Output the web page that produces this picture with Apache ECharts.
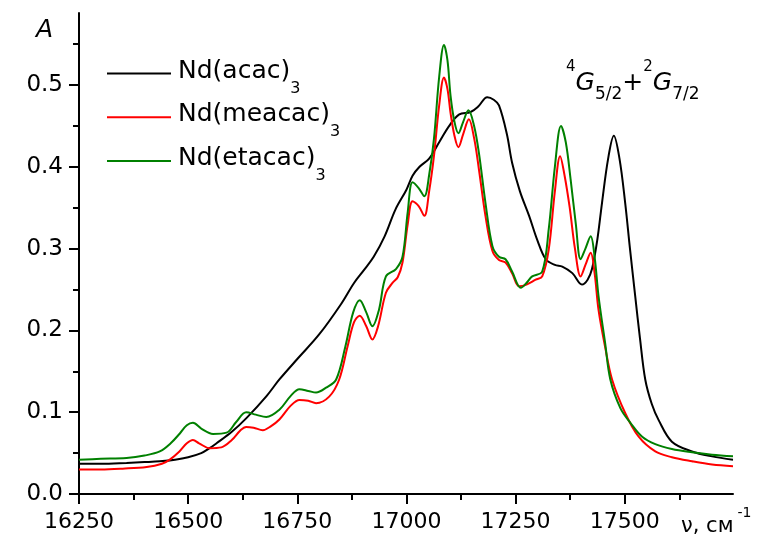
<!DOCTYPE html>
<html>
<head>
<meta charset="utf-8">
<script src="https://cdn.jsdelivr.net/npm/echarts@6/dist/echarts.min.js"></script>
<style>
  html, body { margin: 0; padding: 0; background: #ffffff; }
  #chart { width: 757px; height: 539px; }
</style>
</head>
<body>
<div id="chart"></div>
<script>
// Absorption spectra in the 4G5/2 + 2G7/2 region (wavenumber, cm^-1 -> absorbance)
const acacX = [16250, 16300, 16359, 16400, 16435, 16470, 16500, 16530, 16549, 16565, 16600, 16634, 16680, 16709,
  16750, 16800, 16850, 16880, 16903, 16925, 16950, 16975, 17000, 17014, 17030, 17052, 17075, 17098, 17121,
  17147, 17165, 17185, 17200, 17212, 17230, 17242, 17260, 17281, 17300, 17319, 17340, 17357, 17380, 17402,
  17415, 17425, 17437, 17448, 17462, 17475, 17488, 17501, 17512, 17524, 17535, 17547, 17562, 17578, 17608,
  17654, 17700, 17748];
const acacY = [0.037, 0.037, 0.038, 0.039, 0.040, 0.042, 0.045, 0.050, 0.056, 0.062, 0.076, 0.093, 0.120, 0.140,
  0.165, 0.195, 0.232, 0.258, 0.274, 0.290, 0.315, 0.348, 0.372, 0.389, 0.400, 0.410, 0.430, 0.450, 0.464,
  0.467, 0.474, 0.485, 0.482, 0.475, 0.440, 0.405, 0.370, 0.340, 0.310, 0.287, 0.280, 0.278, 0.270, 0.256,
  0.262, 0.275, 0.310, 0.356, 0.410, 0.438, 0.410, 0.356, 0.300, 0.242, 0.190, 0.140, 0.110, 0.090, 0.064,
  0.052, 0.046, 0.042];

const meacacX = [16250, 16300, 16350, 16405, 16440, 16458, 16480, 16497, 16511, 16525, 16549, 16576, 16600, 16620,
  16633, 16650, 16671, 16690, 16709, 16735, 16755, 16775, 16793, 16823, 16846, 16865, 16880, 16893, 16908,
  16922, 16935, 16953, 16968, 16980, 16991, 17003, 17014, 17028, 17041, 17052, 17063, 17075, 17086, 17094,
  17101, 17110, 17119, 17130, 17143, 17155, 17166, 17181, 17197, 17212, 17227, 17242, 17258, 17275, 17296,
  17311, 17326, 17340, 17352, 17362, 17374, 17386, 17399, 17410, 17422, 17431, 17440, 17455, 17471, 17501,
  17532, 17570, 17608, 17654, 17700, 17748];
const meacacY = [0.030, 0.030, 0.031, 0.033, 0.037, 0.042, 0.052, 0.062, 0.066, 0.062, 0.056, 0.057, 0.066, 0.078,
  0.082, 0.081, 0.078, 0.083, 0.091, 0.108, 0.115, 0.114, 0.111, 0.119, 0.140, 0.180, 0.210, 0.218, 0.205,
  0.189, 0.205, 0.246, 0.258, 0.265, 0.283, 0.330, 0.358, 0.352, 0.340, 0.370, 0.413, 0.475, 0.509, 0.495,
  0.466, 0.438, 0.424, 0.440, 0.458, 0.435, 0.397, 0.340, 0.297, 0.286, 0.283, 0.270, 0.254, 0.256, 0.262,
  0.266, 0.299, 0.370, 0.413, 0.390, 0.350, 0.300, 0.266, 0.280, 0.295, 0.270, 0.225, 0.180, 0.140, 0.099,
  0.070, 0.052, 0.045, 0.040, 0.036, 0.034];

const etacacX = [16250, 16300, 16359, 16400, 16435, 16460, 16481, 16497, 16511, 16530, 16557, 16588, 16610, 16633,
  16655, 16679, 16709, 16735, 16755, 16775, 16793, 16816, 16839, 16860, 16878, 16893, 16908, 16922, 16937,
  16953, 16976, 16991, 17003, 17014, 17028, 17041, 17052, 17063, 17075, 17086, 17094, 17101, 17110, 17119,
  17130, 17142, 17155, 17166, 17181, 17197, 17212, 17227, 17242, 17262, 17275, 17288, 17311, 17326, 17340,
  17354, 17365, 17376, 17388, 17399, 17410, 17422, 17431, 17440, 17455, 17467, 17490, 17513, 17540, 17570,
  17608, 17654, 17700, 17748];
const etacacY = [0.042, 0.043, 0.044, 0.047, 0.052, 0.062, 0.074, 0.084, 0.087, 0.080, 0.0735, 0.075, 0.088, 0.100,
  0.097, 0.094, 0.103, 0.120, 0.128, 0.126, 0.124, 0.130, 0.140, 0.180, 0.222, 0.237, 0.222, 0.205, 0.225,
  0.266, 0.275, 0.290, 0.345, 0.381, 0.374, 0.364, 0.390, 0.434, 0.510, 0.549, 0.530, 0.487, 0.455, 0.441,
  0.455, 0.469, 0.450, 0.417, 0.356, 0.303, 0.290, 0.287, 0.272, 0.252, 0.258, 0.266, 0.272, 0.324, 0.400,
  0.450, 0.430, 0.385, 0.330, 0.287, 0.300, 0.315, 0.290, 0.242, 0.185, 0.140, 0.105, 0.087, 0.070, 0.061,
  0.055, 0.051, 0.048, 0.046];

const seriesNames = ['Nd(acac)', 'Nd(meacac)', 'Nd(etacac)'];
const seriesSub = ['3', '3', '3'];
const seriesColors = ['#000000', '#ff0000', '#008000'];

const xMajorTicks = [16250, 16500, 16750, 17000, 17250, 17500];
const xMinorTicks = [16375, 16625, 16875, 17125, 17375, 17625];
const yMajorTicks = [0, 0.1, 0.2, 0.3, 0.4, 0.5];
const yMinorTicks = [0.05, 0.15, 0.25, 0.35, 0.45, 0.55];

const X_MIN = 16250, X_MAX = 17748, Y_MIN = 0, Y_MAX = 0.588;
const FONT = 'DejaVu Sans';

const zip = (xs, ys) => xs.map((x, i) => [x, ys[i]]);
const seriesData = [zip(acacX, acacY), zip(meacacX, meacacY), zip(etacacX, etacacY)];

const chart = echarts.init(document.getElementById('chart'), null, { renderer: 'canvas' });

const axisLineStyle = { color: '#000', width: 2 };

const option = {
  animation: false,
  backgroundColor: '#ffffff',
  grid: { left: 79, right: 24, top: 13, bottom: 45, containLabel: false },
  xAxis: [
    {
      type: 'value', min: X_MIN, max: X_MAX, position: 'bottom',
      axisLine: { show: true, onZero: false, lineStyle: axisLineStyle },
      axisTick: { show: true, inside: false, length: 10, customValues: xMajorTicks, lineStyle: axisLineStyle },
      axisLabel: {
        show: true, customValues: xMajorTicks, margin: 17, color: '#000',
        fontFamily: FONT, fontSize: 22, formatter: v => String(v)
      },
      splitLine: { show: false }
    },
    {
      type: 'value', min: X_MIN, max: X_MAX, position: 'bottom',
      axisLine: { show: false },
      axisTick: { show: true, inside: false, length: 6, customValues: xMinorTicks, lineStyle: axisLineStyle },
      axisLabel: { show: false },
      splitLine: { show: false }
    }
  ],
  yAxis: [
    {
      type: 'value', min: Y_MIN, max: Y_MAX, position: 'left',
      axisLine: { show: true, onZero: false, lineStyle: axisLineStyle },
      axisTick: { show: true, inside: false, length: 10, customValues: yMajorTicks, lineStyle: axisLineStyle },
      axisLabel: {
        show: true, customValues: yMajorTicks, margin: 16, color: '#000',
        fontFamily: FONT, fontSize: 23, formatter: v => v.toFixed(1)
      },
      splitLine: { show: false }
    },
    {
      type: 'value', min: Y_MIN, max: Y_MAX, position: 'left',
      axisLine: { show: false },
      axisTick: { show: true, inside: false, length: 6, customValues: yMinorTicks, lineStyle: axisLineStyle },
      axisLabel: { show: false },
      splitLine: { show: false }
    }
  ],
  series: seriesNames.map((name, i) => ({
    name: name + seriesSub[i],
    type: 'line',
    xAxisIndex: 0,
    yAxisIndex: 0,
    data: seriesData[i],
    symbol: 'none',
    smooth: 0.35,
    lineStyle: { color: seriesColors[i], width: 2 },
    itemStyle: { color: seriesColors[i] },
    z: 2 + i
  })),
  graphic: [
    // axis titles
    {
      type: 'text', left: 36, top: 18,
      style: { text: 'A', font: 'italic 25px "' + FONT + '"', fill: '#000' }
    },
    {
      type: 'text', x: 681, y: 505,
      style: {
        text: '{t|ν, см}{u|-1}', fill: '#000', verticalAlign: 'top',
        rich: {
          t: { fontFamily: FONT, fontSize: 21, lineHeight: 21, verticalAlign: 'top', padding: [11.5, 0, 0, 0] },
          u: { fontFamily: FONT, fontSize: 14, lineHeight: 14, verticalAlign: 'top', padding: [1, 0, 0, 4] }
        }
      }
    },
    // term label
    {
      type: 'text', x: 566, y: 60,
      style: {
        text: '{a|4}{g|G}{b|5/2}{p|+}{a|2}{g|G}{b|7/2}', fill: '#000', verticalAlign: 'top',
        rich: {
          a: { fontFamily: FONT, fontSize: 15, lineHeight: 16, verticalAlign: 'top' },
          g: { fontFamily: FONT, fontSize: 25, fontStyle: 'italic', lineHeight: 25, verticalAlign: 'top', padding: [10.5, 0, 0, 0] },
          p: { fontFamily: FONT, fontSize: 25, lineHeight: 25, verticalAlign: 'top', padding: [10.5, 0, 0, 0] },
          b: { fontFamily: FONT, fontSize: 17, lineHeight: 17, verticalAlign: 'top', padding: [26.5, 0, 0, 0] }
        }
      }
    }
  ].concat(...seriesNames.map((name, i) => {
    const yLine = 73.5 + i * 43.7;
    return [
      {
        type: 'line',
        shape: { x1: 107, y1: yLine, x2: 171, y2: yLine },
        style: { stroke: seriesColors[i], lineWidth: 2 }
      },
      {
        type: 'text', x: 178, y: yLine - 15,
        style: {
          text: '{n|' + name + '}{s|' + seriesSub[i] + '}', fill: '#000', verticalAlign: 'top',
          rich: {
            n: { fontFamily: FONT, fontSize: 25, lineHeight: 30, verticalAlign: 'top' },
            s: { fontFamily: FONT, fontSize: 16, lineHeight: 16, verticalAlign: 'top', padding: [22, 0, 0, 0] }
          }
        }
      }
    ];
  }))
};

chart.setOption(option);
</script>
</body>
</html>
